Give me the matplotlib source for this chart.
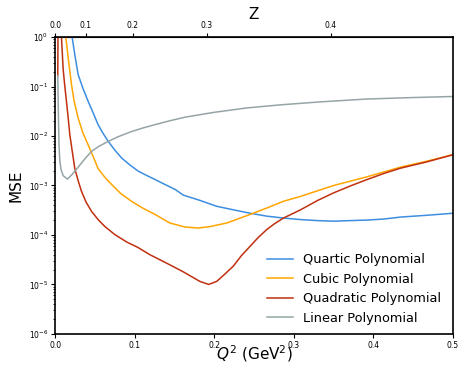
import numpy as np
import matplotlib
matplotlib.use("Agg")
import matplotlib.pyplot as plt

# threshold t_c = 4 m_pi^2 for the conformal variable z
T_C = 4 * 0.13957 ** 2

# Quartic polynomial
q2_quartic = [0.0180, 0.0214, 0.0250, 0.0290, 0.0350, 0.0416, 0.0480, 0.0540, 0.0600,
              0.0668, 0.0750, 0.0836, 0.0940, 0.1045, 0.1150, 0.1256, 0.1380, 0.1510,
              0.1610, 0.1820, 0.2030, 0.2250, 0.2450, 0.2660, 0.2870, 0.3080, 0.3300,
              0.3500, 0.3700, 0.3920, 0.4130, 0.4340, 0.4670, 0.5000]
mse_quartic = [3.0, 1.0, 0.42, 0.174, 0.092, 0.050, 0.029, 0.017, 0.0115,
               7.8e-3, 5.2e-3, 3.6e-3, 2.6e-3, 1.95e-3, 1.6e-3, 1.32e-3, 1.05e-3, 8.3e-4,
               6.4e-4, 5.0e-4, 3.8e-4, 3.2e-4, 2.75e-4, 2.4e-4, 2.2e-4, 2.05e-4, 1.95e-4,
               1.9e-4, 1.95e-4, 2.0e-4, 2.1e-4, 2.3e-4, 2.5e-4, 2.75e-4]

# Cubic polynomial
q2_cubic = [0.0110, 0.0135, 0.0170, 0.0206, 0.0240, 0.0290, 0.0350, 0.0416, 0.0480,
            0.0540, 0.0620, 0.0710, 0.0820, 0.0960, 0.1100, 0.1256, 0.1440, 0.1630,
            0.1800, 0.1950, 0.2160, 0.2450, 0.2660, 0.2870, 0.3080, 0.3500, 0.3920,
            0.4340, 0.4670, 0.5000]
mse_cubic = [3.0, 1.0, 0.32, 0.11, 0.050, 0.023, 0.0115, 6.6e-3, 3.8e-3,
             2.2e-3, 1.5e-3, 1.05e-3, 7.0e-4, 4.8e-4, 3.5e-4, 2.6e-4, 1.75e-4, 1.45e-4,
             1.38e-4, 1.48e-4, 1.75e-4, 2.6e-4, 3.5e-4, 4.8e-4, 6.0e-4, 1.0e-3, 1.5e-3,
             2.35e-3, 3.1e-3, 4.2e-3]

# Quadratic polynomial
q2_quadratic = [0.0034, 0.0038, 0.0068, 0.0080, 0.0101, 0.0120, 0.0143, 0.0165, 0.0185,
                0.0215, 0.0248, 0.0290, 0.0332, 0.0390, 0.0458, 0.0540, 0.0626, 0.0750,
                0.0900, 0.1040, 0.1190, 0.1400, 0.1610, 0.1820, 0.1930, 0.2030, 0.2130,
                0.2240, 0.2340, 0.2450, 0.2550, 0.2660, 0.2760, 0.2870, 0.3080, 0.3300,
                0.3500, 0.3710, 0.3920, 0.4130, 0.4340, 0.4670, 0.5000]
mse_quadratic = [0.166, 4.0, 2.0, 1.0, 0.23, 0.11, 0.050, 0.023, 0.0107,
                 5.0e-3, 2.2e-3, 1.25e-3, 7.6e-4, 4.6e-4, 3.0e-4, 2.05e-4, 1.48e-4, 1.02e-4,
                 7.2e-5, 5.6e-5, 4.0e-5, 2.7e-5, 1.8e-5, 1.15e-5, 1.0e-5, 1.15e-5, 1.6e-5,
                 2.35e-5, 3.8e-5, 5.9e-5, 8.8e-5, 1.29e-4, 1.7e-4, 2.2e-4, 3.2e-4, 5.0e-4,
                 7.1e-4, 9.8e-4, 1.32e-3, 1.75e-3, 2.24e-3, 3.0e-3, 4.2e-3]

# Linear polynomial
q2_linear = [0.0034, 0.0042, 0.0050, 0.0059, 0.0075, 0.0101, 0.0156, 0.0206, 0.0290,
             0.0370, 0.0458, 0.0550, 0.0668, 0.0800, 0.0960, 0.1100, 0.1256, 0.1450,
             0.1630, 0.1990, 0.2410, 0.2830, 0.3330, 0.3920, 0.4500, 0.5000]
mse_linear = [0.166, 0.025, 6.3e-3, 3.2e-3, 2.1e-3, 1.58e-3, 1.35e-3, 1.62e-3, 2.34e-3,
              3.4e-3, 4.9e-3, 6.2e-3, 7.8e-3, 9.8e-3, 0.0123, 0.0145, 0.017, 0.0205,
              0.024, 0.030, 0.037, 0.0427, 0.049, 0.056, 0.060, 0.063]

z_ticks = [0.0, 0.1, 0.2, 0.3, 0.4]


def q2_to_z(q2):
    q2 = np.asarray(q2, dtype=float)
    a = np.sqrt(np.clip(T_C + q2, 1e-12, None))
    b = np.sqrt(T_C)
    return (a - b) / (a + b)


def z_to_q2(z):
    z = np.clip(np.asarray(z, dtype=float), -0.99, 0.99)
    return T_C * (((1 + z) / (1 - z)) ** 2 - 1)


fig, ax = plt.subplots(figsize=(4.59, 3.71), dpi=100)
fig.subplots_adjust(left=0.12, right=0.987, top=0.90, bottom=0.10)

ax.plot(q2_quartic, mse_quartic, color='#3d8ee0', lw=1.1, label='Quartic Polynomial')
ax.plot(q2_cubic, mse_cubic, color='#ffa500', lw=1.1, label='Cubic Polynomial')
ax.plot(q2_quadratic, mse_quadratic, color='#c0300f', lw=1.1, label='Quadratic Polynomial')
ax.plot(q2_linear, mse_linear, color='#95a5a6', lw=1.1, label='Linear Polynomial')

ax.set_yscale('log')
ax.set_xlim(0, 0.5)
ax.set_ylim(1e-6, 1)
ax.set_xticks([0.0, 0.1, 0.2, 0.3, 0.4, 0.5])
ax.tick_params(which='major', labelsize=5.5, length=3, pad=2)
ax.tick_params(which='minor', length=1.8)
ax.set_xlabel(r'$Q^2$ (GeV$^2$)', fontsize=11, labelpad=-5)
ax.set_ylabel('MSE', fontsize=11, labelpad=4)
for sp in ax.spines.values():
    sp.set_linewidth(1.2)

top = ax.secondary_xaxis('top', functions=(q2_to_z, z_to_q2))
top.set_xticks(z_ticks)
top.tick_params(labelsize=5.5, length=3, pad=2)
top.set_xlabel('Z', fontsize=11, labelpad=1.5)

ax.legend(loc='lower right', frameon=False, fontsize=9.3,
          bbox_to_anchor=(1.0, -0.008))

fig.savefig('out.png', dpi=100)
